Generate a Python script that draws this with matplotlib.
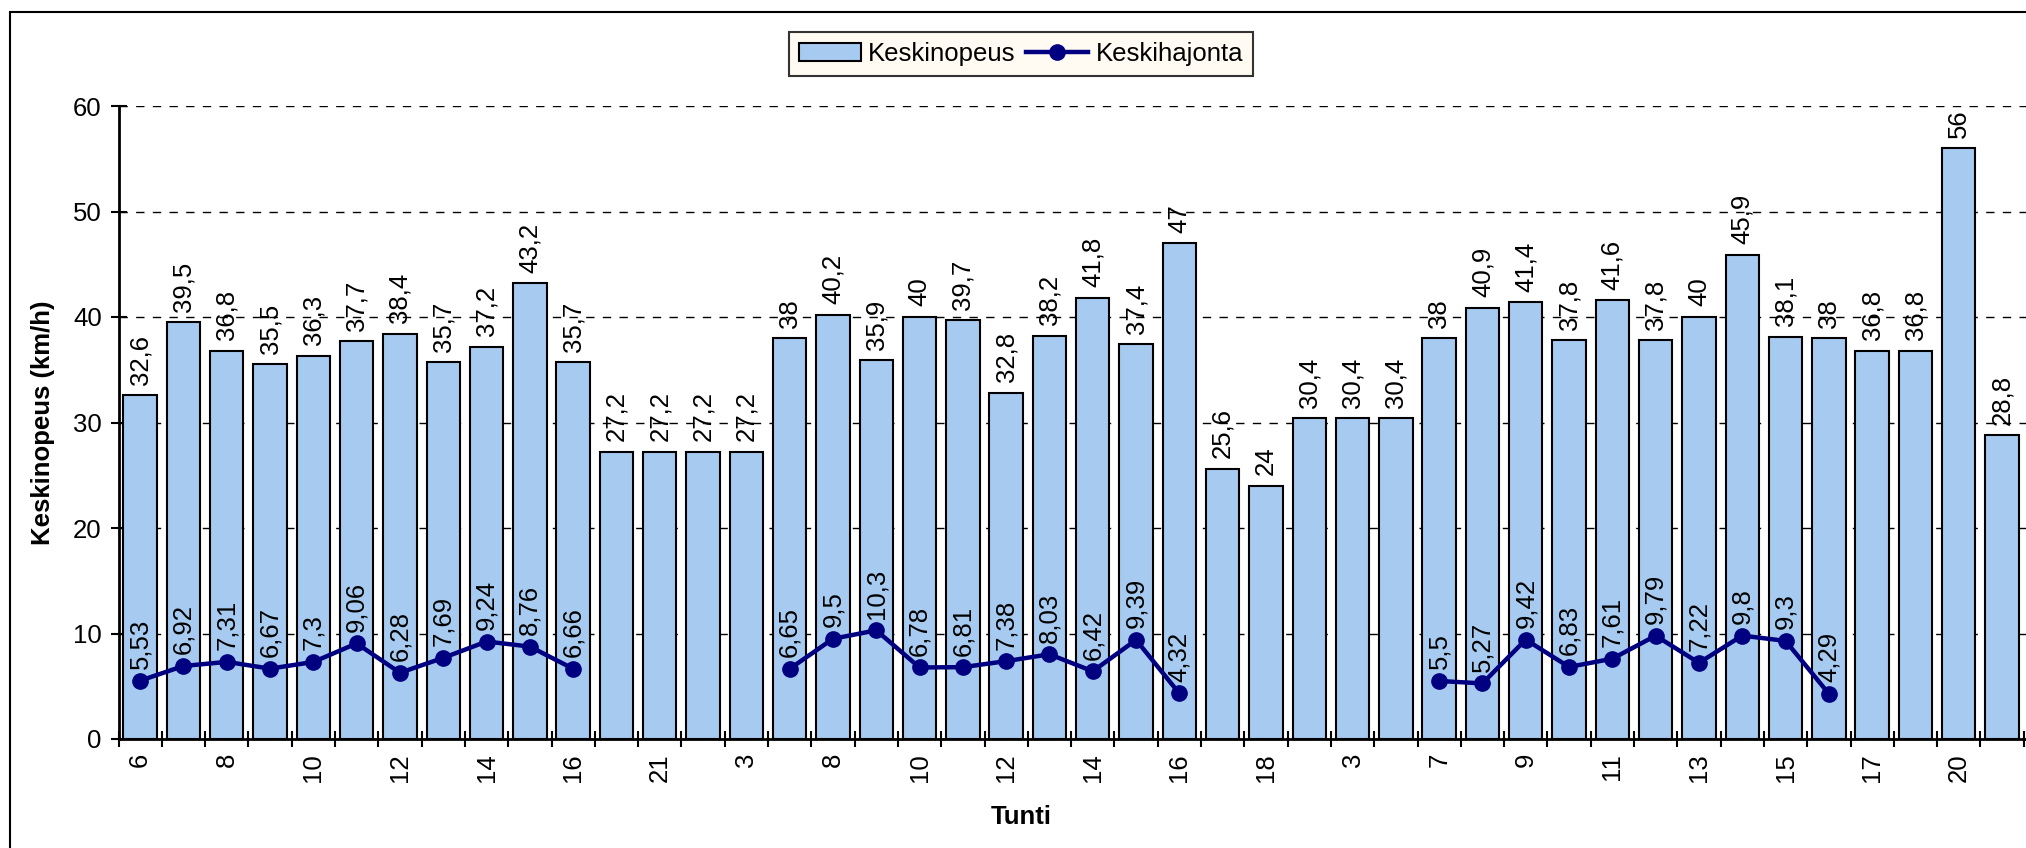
import numpy as np
import matplotlib.pyplot as plt
from matplotlib.patches import Rectangle

plt.rcParams['font.family'] = ['Liberation Sans', 'DejaVu Sans']

# Tunti (hour) labels for each bar
hours = ['6', '7', '8', '9', '10', '11', '12', '13', '14', '15', '16',
         '19', '21', '24', '3',
         '7', '8', '9', '10', '11', '12', '13', '14', '15', '16',
         '17', '18', '21', '3', '5',
         '7', '8', '9', '10', '11', '12', '13', '14', '15', '16',
         '17', '19', '20', '21']

# Keskinopeus (km/h)
speed = [32.6, 39.5, 36.8, 35.5, 36.3, 37.7, 38.4, 35.7, 37.2, 43.2, 35.7,
         27.2, 27.2, 27.2, 27.2,
         38, 40.2, 35.9, 40, 39.7, 32.8, 38.2, 41.8, 37.4, 47,
         25.6, 24, 30.4, 30.4, 30.4,
         38, 40.9, 41.4, 37.8, 41.6, 37.8, 40, 45.9, 38.1, 38,
         36.8, 36.8, 56, 28.8]

# Keskihajonta (NaN where missing)
nan = np.nan
stdev = [5.53, 6.92, 7.31, 6.67, 7.3, 9.06, 6.28, 7.69, 9.24, 8.76, 6.66,
         nan, nan, nan, nan,
         6.65, 9.5, 10.3, 6.78, 6.81, 7.38, 8.03, 6.42, 9.39, 4.32,
         nan, nan, nan, nan, nan,
         5.5, 5.27, 9.42, 6.83, 7.61, 9.79, 7.22, 9.8, 9.3, 4.29,
         nan, nan, nan, nan]


def fi(v):
    # Finnish decimal comma
    return f'{v:g}'.replace('.', ',')


W, H = 2026, 848
FS = 18.5
fig = plt.figure(figsize=(W / 100, H / 100), dpi=100)

# outer chart border (Excel chart area), runs off the right/bottom of the crop
fig.patches.append(Rectangle((9.5 / W, -0.05), 1.2, 1 - 12 / H + 0.05,
                             transform=fig.transFigure, fill=False,
                             edgecolor='black', linewidth=1.5, zorder=0))

n_cat = 46
cat_w = 43.3
left = 118.5 / W
bottom = (H - 739) / H
top = (H - 106) / H
ax = fig.add_axes([left, bottom, n_cat * cat_w / W, top - bottom])

x = np.arange(len(speed))
bars = ax.bar(x, speed, width=0.77, color='#A6CAF0', edgecolor='black',
              linewidth=1.5, zorder=2, label='Keskinopeus')
line, = ax.plot(x, stdev, color='#000080', linewidth=3.2, marker='o',
                markersize=11, zorder=3, label='Keskihajonta')

for xi, v in zip(x, speed):
    ax.text(xi, v + 1.0, fi(v), rotation=90, ha='center', va='bottom',
            fontsize=FS, zorder=4)
for xi, v in zip(x, stdev):
    if not np.isnan(v):
        ax.text(xi, v + 1.1, fi(v), rotation=90, ha='center', va='bottom',
                fontsize=FS, zorder=4)

ax.set_xlim(-0.5, n_cat - 0.5)
ax.set_ylim(0, 60)
ax.set_yticks(range(0, 61, 10))
ax.tick_params(axis='y', direction='inout', length=12, width=1.5,
               labelsize=FS, pad=6)
ax.yaxis.grid(True, linestyle=(0, (6, 6)), color='black', linewidth=1,
              zorder=0)
ax.set_axisbelow(True)

# labels at every other category, tick marks between categories
ax.set_xticks(x[::2])
ax.set_xticklabels(hours[::2], rotation=90, fontsize=FS)
ax.set_xticks(np.arange(-0.5, n_cat, 1), minor=True)
ax.tick_params(axis='x', which='major', length=0, pad=10)
ax.tick_params(axis='x', which='minor', direction='inout', length=12,
               width=1.5)

for s in ['top', 'right']:
    ax.spines[s].set_visible(False)
for s in ['left', 'bottom']:
    ax.spines[s].set_linewidth(2)

ax.set_ylabel('Keskinopeus (km/h)', fontsize=FS, fontweight='bold')
ax.yaxis.set_label_coords((43 - 118.5) / (n_cat * cat_w), 0.5)
ax.set_xlabel('Tunti', fontsize=FS, fontweight='bold')
ax.xaxis.set_label_coords((1021 - 118.5) / (n_cat * cat_w),
                          (739 - 817) / 633)
ax.xaxis.label.set_va('center')
ax.yaxis.label.set_va('center')

leg = fig.legend([bars, line], ['Keskinopeus', 'Keskihajonta'],
                 loc='center', bbox_to_anchor=(1021 / W, 1 - 54 / H),
                 ncol=2, fontsize=FS, frameon=True, fancybox=False,
                 handlelength=2.4, columnspacing=0.4, handletextpad=0.3,
                 borderpad=0.4)
leg.get_frame().set_edgecolor('black')
leg.get_frame().set_facecolor('#FFFBF0')
leg.get_frame().set_linewidth(1.5)

fig.savefig('out.png', dpi=100)
